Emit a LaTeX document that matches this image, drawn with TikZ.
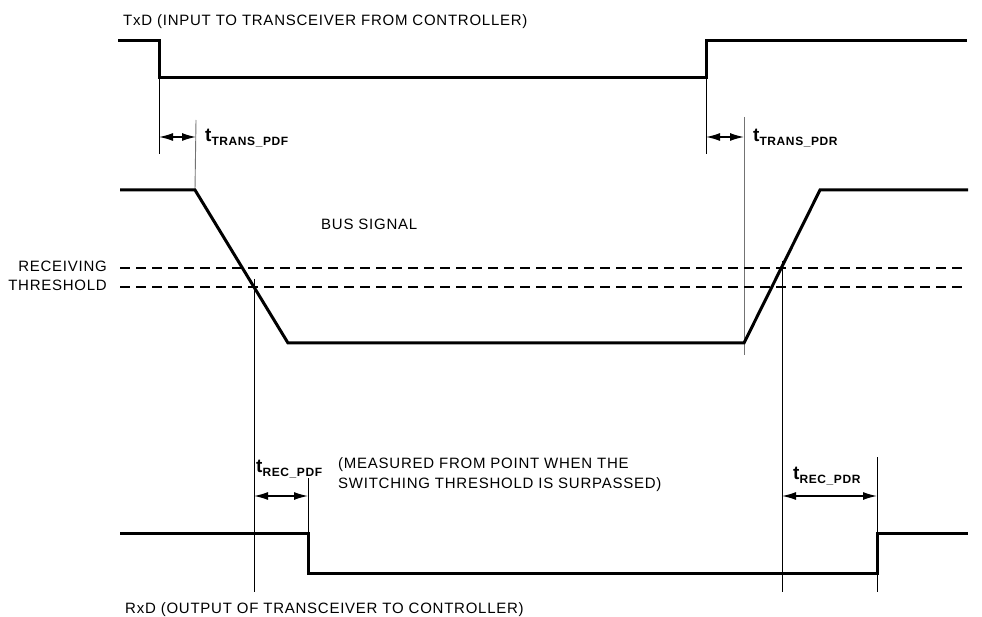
\documentclass[tikz,border=0pt]{standalone}
\usepackage{fontspec}
\setmainfont{Liberation Sans}
\newfontfamily\lblfont[LetterSpace=5]{Liberation Sans}
\usetikzlibrary{arrows.meta}
\newcommand{\tdelay}[1]{{\fontsize{19}{19}\selectfont\bfseries t}\raisebox{-4pt}{\lblfont\fontsize{12}{12}\selectfont\bfseries #1}}
\begin{document}
\begin{tikzpicture}[x=1pt,y=-1pt,
  sig/.style={line width=3pt, line join=miter},
  thinln/.style={line width=0.9pt},
  guide/.style={line width=0.9pt, black!55},
  thr/.style={line width=2.8pt, dash pattern=on 10pt off 6pt},
  dimarrow/.style={line width=1.4pt, {Latex[length=14pt,width=8pt]}-{Latex[length=14pt,width=8pt]}},
  lbl/.style={font=\lblfont\fontsize{15}{17}\selectfont, inner sep=0pt, anchor=base west},
  lblr/.style={lbl, anchor=base east},
  tl/.style={inner sep=0pt, anchor=base west},
]
\useasboundingbox (0,0) rectangle (982,617);

% ---- coordinates
\coordinate (tx0) at (118,41);  \coordinate (tx1) at (159,41);
\coordinate (tx2) at (159,78);  \coordinate (tx3) at (706,78);
\coordinate (tx4) at (706,41);  \coordinate (tx5) at (967,41);

\coordinate (b0) at (120,190); \coordinate (b1) at (195,190);
\coordinate (b2) at (288,343); \coordinate (b3) at (744,343);
\coordinate (b4) at (820,190); \coordinate (b5) at (968,190);

\coordinate (thA0) at (120,268); \coordinate (thA1) at (968,268);
\coordinate (thB0) at (120,287); \coordinate (thB1) at (968,287);

\coordinate (rx0) at (120,533); \coordinate (rx1) at (308,533);
\coordinate (rx2) at (308,573); \coordinate (rx3) at (877,573);
\coordinate (rx4) at (877,533); \coordinate (rx5) at (968,533);

% guide line ends
\coordinate (g1b) at (159,154);
\coordinate (g2a) at (196,120);
\coordinate (g3b) at (706,154);
\coordinate (g4a) at (744,117); \coordinate (g4b) at (744,355);
\coordinate (g5a) at (254,279); \coordinate (g5b) at (254,592);
\coordinate (g6a) at (308,478);
\coordinate (g7a) at (782,261); \coordinate (g7b) at (782,592);
\coordinate (g8a) at (877,457); \coordinate (g8b) at (877,592);

% dimension arrow ends
\coordinate (d1a) at (159,137); \coordinate (d1b) at (196,137);
\coordinate (d2a) at (706,137); \coordinate (d2b) at (744,137);
\coordinate (d3a) at (254,496); \coordinate (d3b) at (308,496);
\coordinate (d4a) at (782,496); \coordinate (d4b) at (877,496);

% ---- guide lines
\draw[thinln] (tx2) -- (g1b);
\draw[guide] (g2a) -- (b1);
\draw[thinln] (tx3) -- (g3b);
\draw[guide] (g4a) -- (g4b);
\draw[thinln] (g5a) -- (g5b);
\draw[thinln] (g6a) -- (rx1);
\draw[thinln] (g7a) -- (g7b);
\draw[thinln] (g8a) -- (g8b);

% ---- thresholds
\draw[thr] (thA0) -- (thA1);
\draw[thr] (thB0) -- (thB1);

% ---- signals
\draw[sig] (tx0) -- (tx1) -- (tx2) -- (tx3) -- (tx4) -- (tx5);
\draw[sig] (b0) -- (b1) -- (b2) -- (b3) -- (b4) -- (b5);
\draw[sig] (rx0) -- (rx1) -- (rx2) -- (rx3) -- (rx4) -- (rx5);

% ---- dimension arrows
\draw[dimarrow] (d1a) -- (d1b);
\draw[dimarrow] (d2a) -- (d2b);
\draw[dimarrow] (d3a) -- (d3b);
\draw[dimarrow] (d4a) -- (d4b);

% ---- texts
\node[lbl] (txd) at (123,26) {TxD (INPUT TO TRANSCEIVER FROM CONTROLLER)};
\node[lbl] (rxd) at (125,613) {RxD (OUTPUT OF TRANSCEIVER TO CONTROLLER)};
\node[lbl] (bus) at (321,230) {BUS SIGNAL};
\node[lblr] (recv) at (107,272) {RECEIVING};
\node[lblr] (thrl) at (107,291) {THRESHOLD};
\node[lbl] (meas1) at (338,468) {(MEASURED FROM POINT WHEN THE};
\node[lbl] (meas2) at (338,488) {SWITCHING THRESHOLD IS SURPASSED)};

\node[tl] (ttpdf) at (205,142) {\tdelay{TRANS\_PDF}};
\node[tl] (ttpdr) at (753,142) {\tdelay{TRANS\_PDR}};
\node[tl] (trpdf) at (256,472) {\tdelay{REC\_PDF}};
\node[tl] (trpdr) at (793,479) {\tdelay{REC\_PDR}};
\end{tikzpicture}
\end{document}
